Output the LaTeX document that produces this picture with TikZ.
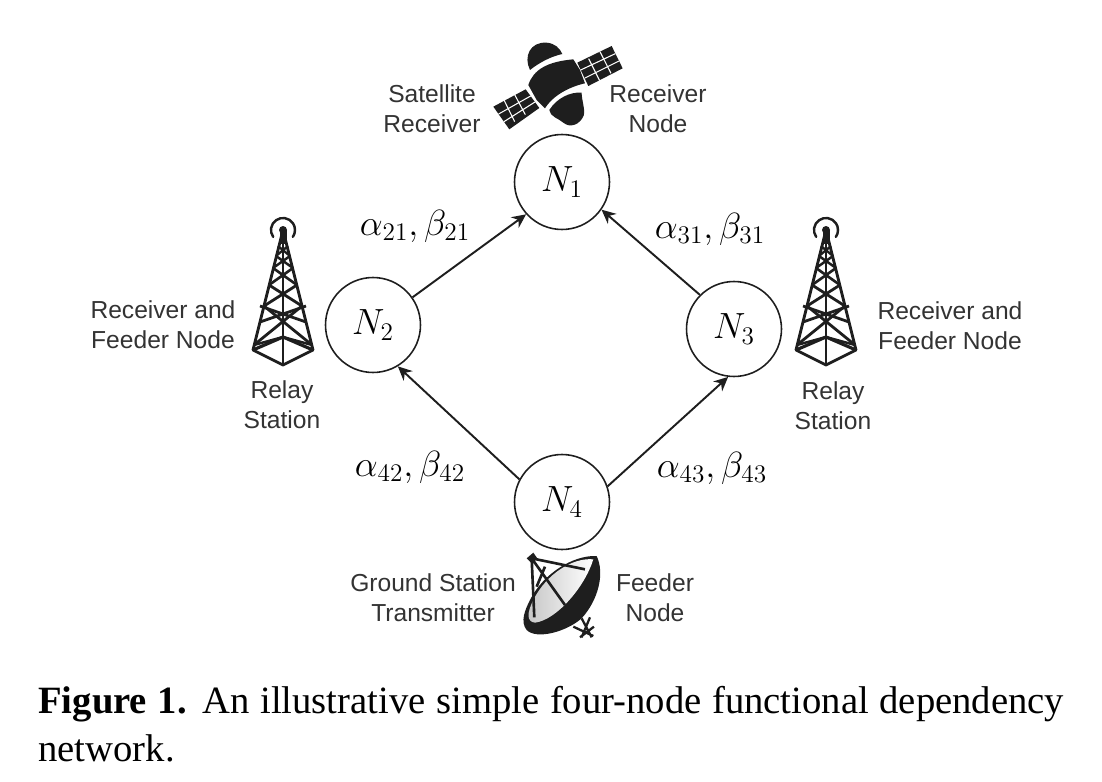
\documentclass[tikz,border=0pt]{standalone}
\usepackage{fontspec}
\setmainfont{Liberation Serif}
\setsansfont{Liberation Sans}
\usetikzlibrary{arrows.meta}
\definecolor{labelgray}{HTML}{333333}
\definecolor{inkblack}{HTML}{1E1E1E}
\tikzset{
    netnode/.style={draw=inkblack,circle,line width=0.9pt,minimum size=1.9cm,inner sep=0pt,font=\fontsize{20.74}{25}\selectfont},
    netedge/.style={draw=inkblack,line width=1.1pt,-{Stealth[length=8pt,width=7.5pt]}},
    weight/.style={inner sep=0pt,font=\fontsize{20.74}{25}\selectfont},
    role/.style={align=center,inner sep=0pt,text=labelgray,font=\sffamily\fontsize{14}{17}\selectfont},
    towerpic/.pic={
        \draw[inkblack,line width=1.6pt,line join=round] (-30,120) -- (0,0) -- (30,120) -- (0,135) -- cycle;
        \draw[inkblack,line width=1.6pt] (0,0) -- (0,135);
        \draw[inkblack,line width=1.8pt] (-30,120) -- (0,107) -- (30,120);
        \draw[inkblack,line width=1.4pt] (-29,115) -- (0,107) -- (29,115);
        \draw[inkblack,line width=1.6pt] (-23,92) -- (23,76) (23,92) -- (-23,76);
        \draw[inkblack,line width=1.6pt] (-29,115) -- (19,76) (29,115) -- (-19,76);
        \draw[inkblack,line width=1.6pt] (-19,76) -- (14,55) (19,76) -- (-14,55);
        \draw[inkblack,line width=1.5pt] (-14,55) -- (10,38) (14,55) -- (-10,38);
        \draw[inkblack,line width=1.4pt] (-10,38) -- (7,26) (10,38) -- (-7,26);
        \draw[inkblack,line width=1.3pt] (-7,26) -- (5,16) (7,26) -- (-5,16);
        \fill[inkblack] (-3.5,0) rectangle (3.5,14);
        \fill[inkblack] (0,0) circle[radius=4];
        \draw[inkblack,line width=1.4pt,line cap=round] (145:12) arc[start angle=145,end angle=395,radius=12];
    }
}
\begin{document}
\begin{tikzpicture}[x=0.02cm,y=-0.02cm]
    \useasboundingbox (0,0) rectangle (1102,781);
    \node[netnode] (n1) at (562,182) {$N_1$};
    \node[netnode] (n2) at (373,325) {$N_2$};
    \node[netnode] (n3) at (734,329) {$N_3$};
    \node[netnode] (n4) at (562,502) {$N_4$};
    \draw[netedge] (n2.35) -- (n1.222);
    \draw[netedge] (n3.135) -- (n1.325);
    \draw[netedge] (n4.152) -- (n2.301);
    \draw[netedge] (n4.19.5) -- (n3.263);
    \node[weight] (w21) at (415,226) {$\alpha_{21},\beta_{21}$};
    \node[weight] (w31) at (710,229) {$\alpha_{31},\beta_{31}$};
    \node[weight] (w42) at (410,467) {$\alpha_{42},\beta_{42}$};
    \node[weight] (w43) at (712,468) {$\alpha_{43},\beta_{43}$};
    \node[role] (satlabel) at (432,109) {Satellite\\Receiver};
    \node[role] (reclabel) at (658,109) {Receiver\\Node};
    \node[role] (leftrole) at (163,325) {Receiver and\\Feeder Node};
    \node[role] (rightrole) at (950,326) {Receiver and\\Feeder Node};
    \node[role] (leftrelay) at (282,405) {Relay\\Station};
    \node[role] (rightrelay) at (833,406) {Relay\\Station};
    \node[role] (gslabel) at (433,598) {Ground Station\\Transmitter};
    \node[role] (feedlabel) at (655,598) {Feeder\\Node};
    \pic at (283,230) {towerpic};
    \pic at (826,230) {towerpic};
    \begin{scope}[shift={(380,20)},scale=0.3333]
        \fill[inkblack] (445,195) .. controls (460,150) and (500,125) .. (580,118) -- (600,150) -- (615,190) .. controls (570,200) and (520,225) .. (495,265) -- (470,240) -- cycle;
        \fill[inkblack] (450,150) .. controls (430,110) and (450,65) .. (500,68) .. controls (525,70) and (540,85) .. (547,102) .. controls (510,110) and (475,130) .. (450,150) -- cycle;
        \fill[inkblack] (508,270) .. controls (530,235) and (570,215) .. (605,218) .. controls (605,240) and (615,265) .. (612,285) .. controls (600,315) and (570,325) .. (550,308) .. controls (535,295) and (510,290) .. (508,270) -- cycle;
        \fill[inkblack] (340,260) -- (437,208) -- (478,264) -- (388,328) -- cycle;
        \fill[inkblack] (592,128) -- (695,78) -- (728,145) -- (625,198) -- cycle;
        \draw[white,line width=0.6pt] (356,282) -- (452,228) (372,305) -- (465,246) (372,240) -- (404,305) (404,224) -- (436,284);
        \draw[white,line width=0.6pt] (602,150) -- (706,101) (615,174) -- (717,123) (626,116) -- (659,182) (660,95) -- (693,160);
    \end{scope}
    \begin{scope}[shift={(340,530)},scale=0.3333]
        \draw[inkblack,line width=1.3pt] (700,290) -- (760,318) (725,265) -- (755,322) (750,262) -- (725,322) (720,322) -- (762,290);
        \fill[inkblack] (770,78) .. controls (795,130) and (775,210) .. (725,265) .. controls (680,305) and (590,330) .. (560,300) .. controls (540,275) and (555,240) .. (570,210) .. controls (610,130) and (700,75) .. (770,78) -- cycle;
        \shade[left color=gray!45,right color=white] (760,88) .. controls (700,82) and (620,130) .. (580,210) .. controls (560,250) and (560,275) .. (585,278) .. controls (650,270) and (735,170) .. (760,88) -- cycle;
        \draw[inkblack,line width=1.5pt] (575,85) -- (735,118) (575,85) -- (675,225) (575,85) -- (583,262) (615,110) -- (590,170);
        \fill[inkblack] (560,85) -- (580,68) -- (592,85) -- (575,100) -- cycle;
    \end{scope}
    \node[anchor=north west,inner sep=0pt,text width=20.52cm,align=justify,font=\fontsize{22}{27.2}\selectfont] (caption) at (38,686) {\textbf{Figure 1.} An illustrative simple four-node functional dependency network.};
\end{tikzpicture}
\end{document}
